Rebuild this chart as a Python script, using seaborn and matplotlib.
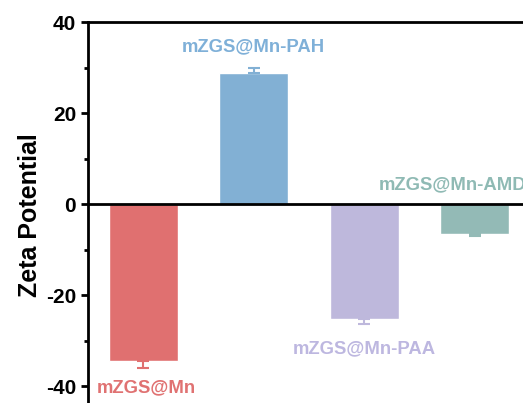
import numpy as np
import pandas as pd
import matplotlib
matplotlib.use("Agg")
import matplotlib.pyplot as plt
from matplotlib.ticker import MultipleLocator
import seaborn as sns

# data
samples = ["mZGS@Mn", "mZGS@Mn-PAH", "mZGS@Mn-PAA", "mZGS@Mn-AMD"]
zeta = [-34.4, 28.7, -25.3, -6.5]
err = [1.5, 1.3, 1.0, 0.4]
bar_colors = ["#E07070", "#82B0D4", "#BEB8DC", "#93BAB6"]
text_colors = ["#E07272", "#7FB0D8", "#BDB7E0", "#8FBAB4"]

sns.set_style("ticks", {"axes.edgecolor": "black", "xtick.color": "black",
                        "ytick.color": "black", "text.color": "black",
                        "axes.labelcolor": "black"})
plt.rcParams["font.family"] = ["Liberation Sans", "DejaVu Sans"]
plt.rcParams["font.weight"] = "bold"
plt.rcParams["axes.unicode_minus"] = False

df = pd.DataFrame({"sample": samples, "zeta": zeta})

fig = plt.figure(figsize=(5.23, 4.03), dpi=100)
# axes runs past the right and bottom edge, like the cropped original
ax = fig.add_axes([88 / 523, -6 / 403, 442 / 523, 387 / 403])

sns.barplot(data=df, x="sample", y="zeta", hue="sample", palette=bar_colors,
            width=0.62, legend=False, ax=ax, saturation=1, errorbar=None)

# one-sided error bars (away from zero)
for i, (v, e) in enumerate(zip(zeta, err)):
    yerr = [[e], [0]] if v < 0 else [[0], [e]]
    ax.errorbar(i, v, yerr=yerr, fmt="none", ecolor=bar_colors[i],
                elinewidth=1.5, capsize=4, capthick=1.5)

ax.axhline(0, color="black", lw=2)
ax.set_xlim(-0.5, 3.5)
ax.set_ylim(-45, 40)
ax.yaxis.set_major_locator(MultipleLocator(20))
ax.yaxis.set_minor_locator(MultipleLocator(10))
ax.tick_params(axis="y", which="major", length=5, width=2, labelsize=15,
               labelcolor="black")
ax.tick_params(axis="y", which="minor", length=3, width=2)
ax.set_xticks([])
ax.set_xlabel("")
ax.set_ylabel("Zeta Potential", fontsize=18, fontweight="bold", labelpad=3,
              color="black")
for s in ["left", "top"]:
    ax.spines[s].set_linewidth(2)
ax.spines["right"].set_visible(False)
ax.spines["bottom"].set_visible(False)
for lab in ax.get_yticklabels():
    lab.set_fontweight("bold")

# coloured labels next to each bar
label_x = [0.03, 1.0, 2.0, 2.8]
label_y = [-40.3, 34.5, -31.8, 4.2]
for i, name in enumerate(samples):
    ax.text(label_x[i], label_y[i], name, color=text_colors[i],
            ha="center", va="center", fontsize=13.3, fontweight="bold")

fig.savefig("out.png", dpi=100)
